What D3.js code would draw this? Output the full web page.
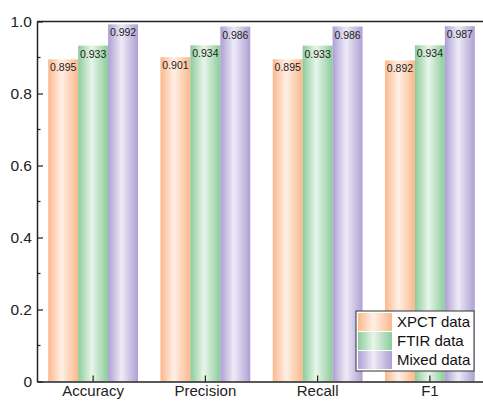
<!DOCTYPE html>
<html><head><meta charset="utf-8">
<script src="https://cdn.jsdelivr.net/npm/d3@7/dist/d3.min.js"></script>
<style>body{margin:0;background:#fff;}svg{display:block;font-family:"Liberation Sans",Arial,sans-serif;}</style>
</head><body><svg id="c" width="483" height="401"></svg>
<script>
const categories = ["Accuracy", "Precision", "Recall", "F1"];
const seriesNames = ["XPCT data", "FTIR data", "Mixed data"];
const xpct = [0.895, 0.901, 0.895, 0.892];
const ftir = [0.933, 0.934, 0.933, 0.934];
const mixed = [0.992, 0.986, 0.986, 0.987];
const yTicks = [0, 0.2, 0.4, 0.6, 0.8, 1.0];
const yTickLabels = ["0", "0.2", "0.4", "0.6", "0.8", "1.0"];
const palette = [
  {edge: "#fbb88c", mid: "#fff0e6"},
  {edge: "#8ccc9a", mid: "#e8f5ea"},
  {edge: "#ada0d3", mid: "#eeebf7"}
];
const series = [xpct, ftir, mixed];

const svg = d3.select("#c");
const L = 37, R = 486, T = 21.5, B = 381.5;
const x0 = d3.scaleBand().domain(categories).range([L, R]).paddingInner(0.2).paddingOuter(0.1);
const x1 = d3.scaleBand().domain(seriesNames).range([0, x0.bandwidth()]);
const y = d3.scaleLinear().domain([0, 1]).range([B, T]);

const defs = svg.append("defs");
palette.forEach((p, i) => {
  const g = defs.append("linearGradient").attr("id", "g" + i).attr("x1", "0").attr("x2", "1").attr("y1", "0").attr("y2", "0");
  g.append("stop").attr("offset", "0").attr("stop-color", p.edge);
  g.append("stop").attr("offset", "0.45").attr("stop-color", p.mid);
  g.append("stop").attr("offset", "1").attr("stop-color", p.edge);
});

// bars
const groups = svg.append("g").selectAll("g").data(categories).join("g")
  .attr("transform", d => `translate(${x0(d)},0)`);
groups.each(function(cat, ci) {
  const g = d3.select(this);
  series.forEach((vals, si) => {
    const v = vals[ci];
    g.append("rect").attr("x", x1(seriesNames[si])).attr("width", x1.bandwidth())
      .attr("y", y(v)).attr("height", y(0) - y(v)).attr("fill", `url(#g${si})`);
    g.append("text").attr("x", x1(seriesNames[si]) + x1.bandwidth() / 2).attr("y", y(v) + 12)
      .attr("text-anchor", "middle").attr("font-size", 10.5).attr("fill", "#222").text(v.toFixed(3));
  });
});

// axes
const yAxis = d3.axisLeft(y).tickValues(yTicks).tickFormat((d, i) => yTickLabels[i]).tickSizeInner(-6).tickSizeOuter(0).tickPadding(5);
const ya = svg.append("g").attr("transform", `translate(${L},0)`).call(yAxis);
ya.select(".domain").attr("stroke", "#222").attr("stroke-width", 1.5);
ya.selectAll(".tick line").attr("stroke", "#222").attr("stroke-width", 1.2);
ya.selectAll("text").attr("font-size", 15.5).attr("fill", "#222").attr("font-family", "Liberation Sans, Arial, sans-serif");
// minor ticks
const minorY = d3.range(0.1, 1.0, 0.2);
svg.append("g").selectAll("line").data(minorY).join("line")
  .attr("x1", L).attr("x2", L + 3.5).attr("y1", d => y(d)).attr("y2", d => y(d))
  .attr("stroke", "#222").attr("stroke-width", 1.2);

const xAxis = d3.axisBottom(x0).tickSizeInner(-6).tickSizeOuter(0).tickPadding(4);
const xa = svg.append("g").attr("transform", `translate(0,${B})`).call(xAxis);
xa.select(".domain").attr("stroke", "#222").attr("stroke-width", 1.5);
xa.selectAll(".tick line").attr("stroke", "#222").attr("stroke-width", 1.2);
xa.selectAll("text").attr("font-size", 15).attr("fill", "#222").attr("font-family", "Liberation Sans, Arial, sans-serif");

// top frame line
svg.append("line").attr("x1", L).attr("x2", R).attr("y1", T).attr("y2", T).attr("stroke", "#222").attr("stroke-width", 1.5);
svg.append("line").attr("x1", R).attr("x2", R).attr("y1", T).attr("y2", B).attr("stroke", "#222").attr("stroke-width", 1.5);

// legend
const lg = svg.append("g").attr("transform", "translate(356,311)");
lg.append("rect").attr("x", 0).attr("y", 0).attr("width", 118).attr("height", 60)
  .attr("fill", "#fff").attr("stroke", "#333").attr("stroke-width", 1);
seriesNames.forEach((n, i) => {
  lg.append("rect").attr("x", 2).attr("y", 2 + i * 19).attr("width", 34).attr("height", 18).attr("fill", `url(#g${i})`);
  lg.append("text").attr("x", 41).attr("y", 15.5 + i * 19).attr("font-size", 15).attr("fill", "#111").text(n);
});
</script></body></html>
